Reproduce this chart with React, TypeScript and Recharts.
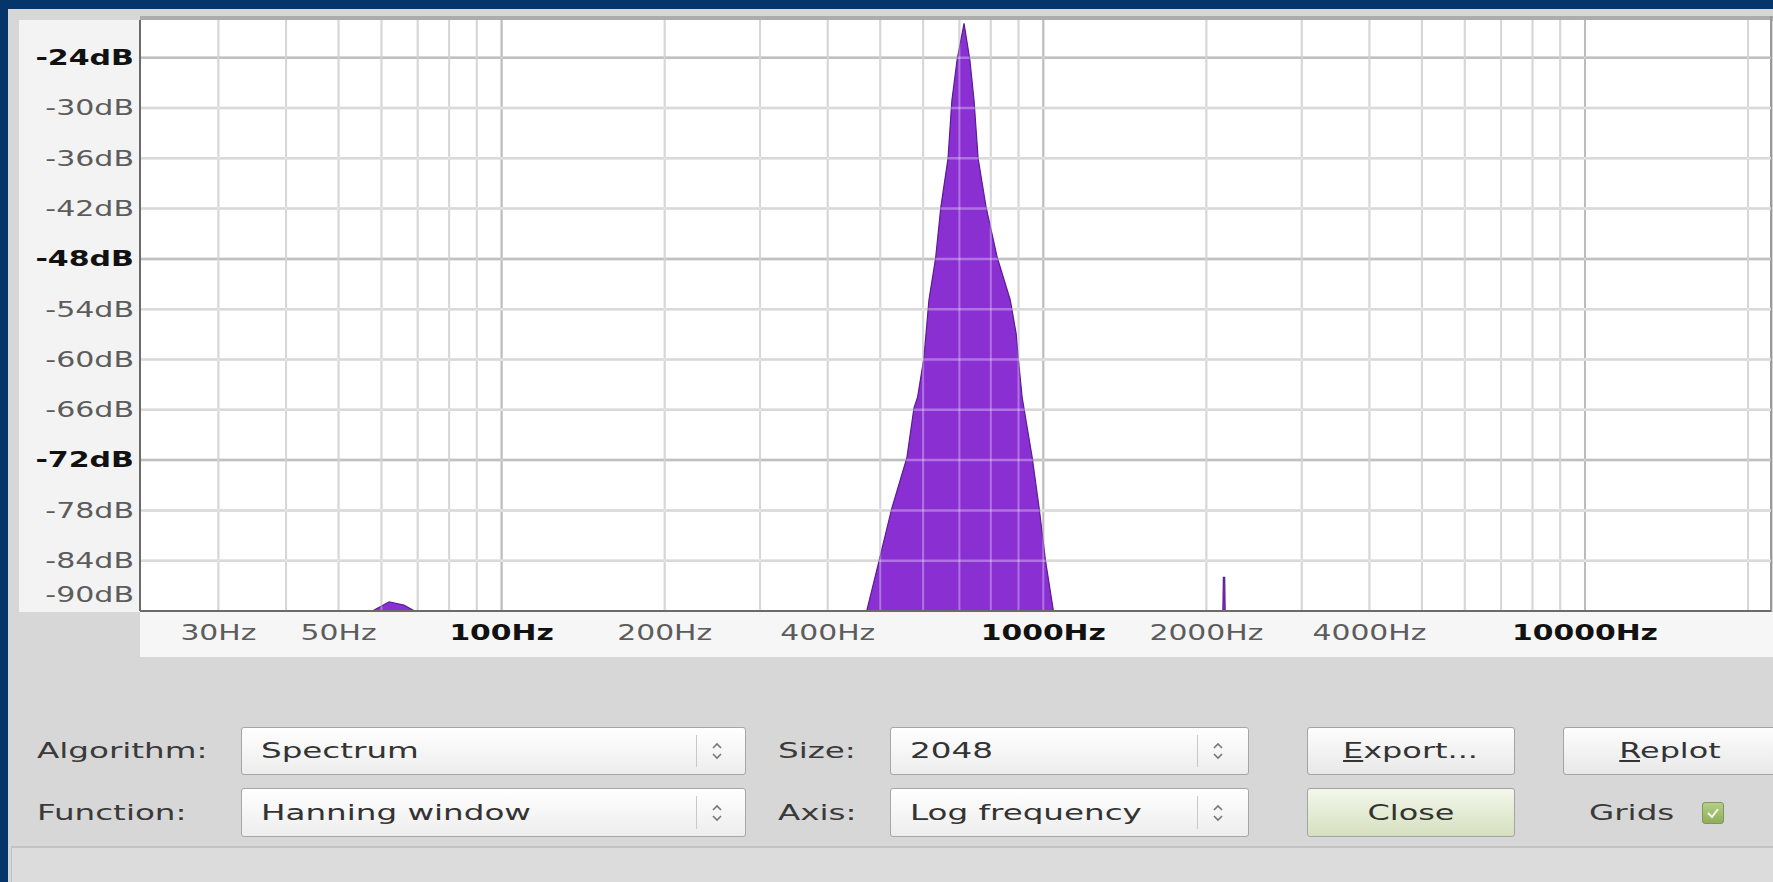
import React from 'react';
import { ComposedChart, Area, XAxis, YAxis, ReferenceLine } from 'recharts';

// spectrum (Hz / dB), -95 = below the -90dB floor
const freqHz = [
  21.5, 56, 57, 62, 66, 70, 71,
  460, 472, 498, 525, 560, 577, 586, 602, 615, 633, 647, 667, 678, 693, 714,
  732, 745, 758, 784, 822, 869, 891, 899, 914, 954, 983, 1009, 1044, 1055,
  2140, 2150, 2162, 2172, 22050,
];
const levelDb = [
  -95, -95, -90.2, -88.9, -89.3, -90.2, -95,
  -95, -90, -83.9, -77.8, -71.7, -65.8, -64.5, -59.8, -52.9, -47.8, -41.8, -36.0, -29.1, -24.3, -19.9,
  -24.3, -29.1, -36.0, -41.8, -47.8, -52.9, -56.9, -59.8, -64.5, -71.7, -77.8, -83.9, -90, -95,
  -95, -86, -86, -95, -95,
];

const freqTicks = [30, 50, 100, 200, 400, 1000, 2000, 4000, 10000];
const gridFreqs = [
  30, 40, 50, 60, 70, 80, 90, 100, 200, 300, 400, 500, 600, 700, 800, 900,
  1000, 2000, 3000, 4000, 5000, 6000, 7000, 8000, 9000, 10000, 20000,
];
const majorFreqs = [100, 1000, 10000];
const dbTicks = [-90, -84, -78, -72, -66, -60, -54, -48, -42, -36, -30, -24];
const majorDbs = [-24, -48, -72];

const data = freqHz.map((f, i) => ({ f, db: levelDb[i] }));

const FONT = '"DejaVu Sans", sans-serif';

const DbTick = (props: any) => {
  const { x, y, payload } = props;
  const v = payload.value;
  const major = majorDbs.includes(v);
  const dy = v === -90 ? -16 : 0;
  return (
    <text
      transform={`translate(${x - 6},${y + dy}) scale(1.43,1)`}
      textAnchor="end"
      dominantBaseline="central"
      fontFamily={FONT}
      fontSize={21}
      fontWeight={major ? 'bold' : 'normal'}
      fill={major ? '#111' : '#5c5c5c'}
    >
      {`${v}dB`}
    </text>
  );
};

const FreqTick = (props: any) => {
  const { x, y, payload } = props;
  const major = majorFreqs.includes(payload.value);
  return (
    <text
      transform={`translate(${x},${y + 22}) scale(1.42,1)`}
      textAnchor="middle"
      dominantBaseline="central"
      fontFamily={FONT}
      fontSize={21}
      fontWeight={major ? 'bold' : 'normal'}
      fill={major ? '#111' : '#5c5c5c'}
    >
      {`${payload.value}Hz`}
    </text>
  );
};

const Stretch = ({ children, k = 1.48, origin = 'left center' }: any) => (
  <span style={{ display: 'inline-block', transform: `scaleX(${k})`, transformOrigin: origin, whiteSpace: 'nowrap' }}>
    {children}
  </span>
);

const Label = ({ left, top, h, text }: any) => (
  <div style={{ position: 'absolute', left, top, height: h, lineHeight: `${h}px`, fontSize: 22, color: '#3a3a3a' }}>
    <Stretch>{text}</Stretch>
  </div>
);

const Arrows = () => (
  <svg width="14" height="22" viewBox="0 0 14 22">
    <polyline points="3,8 7,4 11,8" fill="none" stroke="#777" strokeWidth="1.6" />
    <polyline points="3,14 7,18 11,14" fill="none" stroke="#777" strokeWidth="1.6" />
  </svg>
);

const Combo = ({ left, top, width, h, text, divider }: any) => (
  <div
    style={{
      position: 'absolute', left, top, width, height: h, boxSizing: 'border-box',
      border: '1px solid #a6a6a6', borderRadius: 3,
      background: 'linear-gradient(#ffffff, #ededed)', fontSize: 22, color: '#333',
    }}
  >
    <div style={{ position: 'absolute', left: 19, top: 0, lineHeight: `${h - 2}px` }}>
      <Stretch>{text}</Stretch>
    </div>
    <div style={{ position: 'absolute', left: divider, top: 7, width: 1, height: h - 16, background: '#c8c8c8' }} />
    <div style={{ position: 'absolute', left: divider + 14, top: (h - 24) / 2 }}>
      <Arrows />
    </div>
  </div>
);

const Button = ({ left, top, width, h, children, green }: any) => (
  <div
    style={{
      position: 'absolute', left, top, width, height: h, boxSizing: 'border-box',
      border: '1px solid #a4a4a4', borderRadius: 3,
      background: green ? 'linear-gradient(#f3f7ea, #d5e0bf)' : 'linear-gradient(#fdfdfd, #e8e8e8)',
      fontSize: 22, color: '#333', textAlign: 'center', lineHeight: `${h - 2}px`,
    }}
  >
    <Stretch k={1.45} origin="center center">{children}</Stretch>
  </div>
);

export default function App() {
  return (
    <div
      style={{
        position: 'absolute', left: 0, top: 0, width: 1773, height: 882, overflow: 'hidden',
        background: '#063669', fontFamily: FONT,
      }}
    >
      {/* dialog panel */}
      <div style={{ position: 'absolute', left: 8, top: 9, right: 0, bottom: 0, background: '#d7d7d7' }} />
      {/* label strips and plot background */}
      <div style={{ position: 'absolute', left: 19, top: 20, width: 121, height: 592, background: '#f3f3f3' }} />
      <div style={{ position: 'absolute', left: 140, top: 612, width: 1633, height: 45, background: '#f6f6f6' }} />
      <div style={{ position: 'absolute', left: 140, top: 16, width: 1633, height: 5, background: '#acacac' }} />
      <div style={{ position: 'absolute', left: 140, top: 20, width: 1631, height: 591, background: '#ffffff' }} />
      <div style={{ position: 'absolute', left: 1770, top: 16, width: 2, height: 596, background: '#9a9a9a' }} />

      <div style={{ position: 'absolute', left: 0, top: 0 }}>
        <ComposedChart width={1773} height={660} data={data} margin={{ top: 20, right: 2, left: 0, bottom: 0 }}>
          <XAxis
            dataKey="f"
            type="number"
            scale="log"
            domain={[21.5, 22050]}
            allowDataOverflow
            ticks={freqTicks}
            interval={0}
            height={49}
            tickSize={0}
            tickMargin={0}
            tick={<FreqTick />}
            axisLine={{ stroke: '#6b6b6b', strokeWidth: 2 }}
          />
          <YAxis
            type="number"
            domain={[-90, -19.5]}
            allowDataOverflow
            ticks={dbTicks}
            interval={0}
            width={140}
            tickSize={0}
            tickMargin={0}
            tick={<DbTick />}
            axisLine={{ stroke: '#6b6b6b', strokeWidth: 2 }}
          />
          {gridFreqs.map((f) => (
            <ReferenceLine
              key={`gx${f}`}
              x={f}
              stroke={majorFreqs.includes(f) ? '#9d9d9d' : '#c4c4c4'}
              strokeWidth={2}
              zIndex={-100}
            />
          ))}
          {dbTicks.slice(1).map((d) => (
            <ReferenceLine
              key={`gy${d}`}
              y={d}
              stroke={majorDbs.includes(d) ? '#a2a2a2' : '#c7c7c7'}
              strokeWidth={2.5}
              zIndex={-100}
            />
          ))}
          <Area
            type="linear"
            dataKey="db"
            baseValue={-95}
            stroke="#5a1c92"
            strokeWidth={1.2}
            fill="#8a30d2"
            fillOpacity={1}
            isAnimationActive={false}
            dot={false}
            activeDot={false}
          />
          {gridFreqs.map((f) => (
            <ReferenceLine key={`wx${f}`} x={f} stroke="#ffffff" strokeOpacity={0.32} strokeWidth={2} zIndex={450} />
          ))}
          {dbTicks.slice(1).map((d) => (
            <ReferenceLine key={`wy${d}`} y={d} stroke="#ffffff" strokeOpacity={0.32} strokeWidth={2.5} zIndex={450} />
          ))}
        </ComposedChart>
      </div>

      {/* controls */}
      <Label left={37} top={727} h={48} text="Algorithm:" />
      <Combo left={241} top={727} width={505} h={48} text="Spectrum" divider={454} />
      <Label left={778} top={727} h={48} text="Size:" />
      <Combo left={890} top={727} width={359} h={48} text="2048" divider={306} />
      <Button left={1307} top={727} width={208} h={48}>
        <u>E</u>xport...
      </Button>
      <Button left={1563} top={727} width={214} h={48}>
        <u>R</u>eplot
      </Button>

      <Label left={37} top={788} h={49} text="Function:" />
      <Combo left={241} top={788} width={505} h={49} text="Hanning window" divider={454} />
      <Label left={778} top={788} h={49} text="Axis:" />
      <Combo left={890} top={788} width={359} h={49} text="Log frequency" divider={306} />
      <Button left={1307} top={788} width={208} h={49} green>
        Close
      </Button>
      <Label left={1589} top={788} h={49} text="Grids" />
      <div
        style={{
          position: 'absolute', left: 1702, top: 802, width: 22, height: 22, boxSizing: 'border-box',
          border: '1px solid #7f9a52', borderRadius: 3, background: 'linear-gradient(#b5cf86, #8fae5a)',
        }}
      >
        <svg width="20" height="20" viewBox="0 0 20 20">
          <polyline points="5,10 9,14 15,6" fill="none" stroke="#f4f8ea" strokeWidth="2" />
        </svg>
      </div>

      {/* status bar */}
      <div
        style={{
          position: 'absolute', left: 11, top: 846, right: 0, bottom: 0,
          borderTop: '2px solid #c2c2c2', borderLeft: '1px solid #c2c2c2', background: '#dcdcdc',
        }}
      />
    </div>
  );
}
